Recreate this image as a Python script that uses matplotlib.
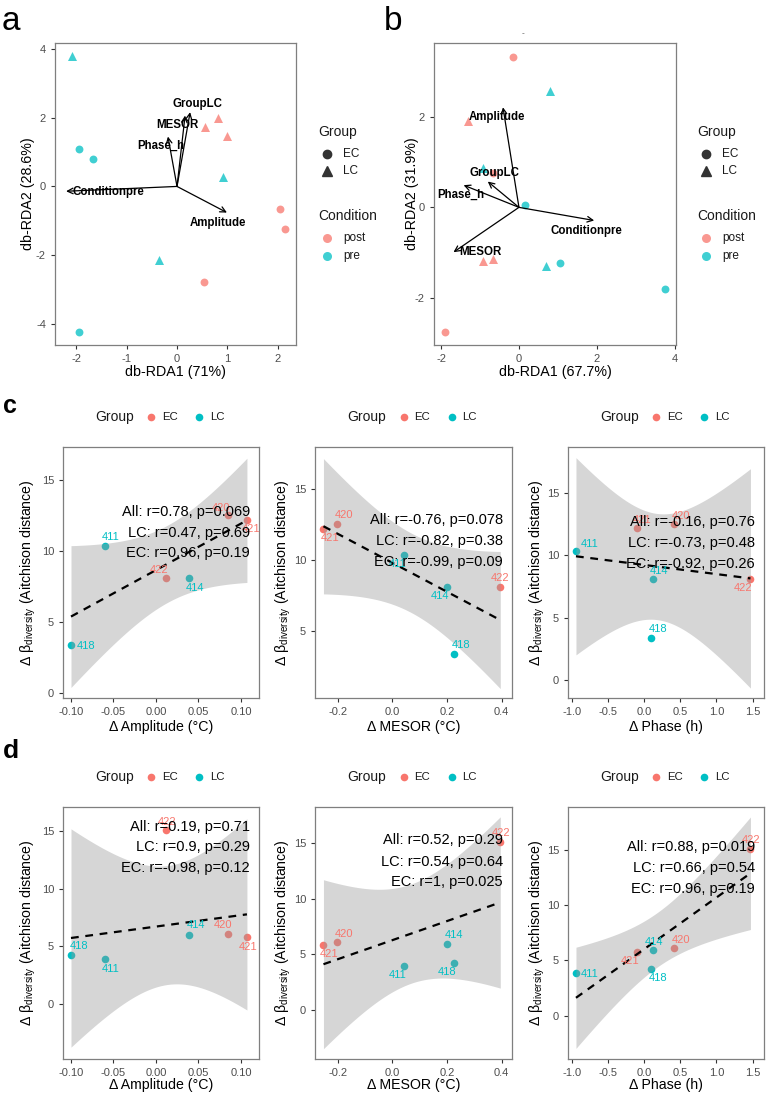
import numpy as np
import matplotlib
matplotlib.use("Agg")
import matplotlib.pyplot as plt
from matplotlib.lines import Line2D

plt.rcParams['font.family'] = ['Liberation Sans', 'DejaVu Sans']
plt.rcParams['mathtext.fontset'] = 'custom'
plt.rcParams['mathtext.rm'] = 'Liberation Sans'
plt.rcParams['axes.unicode_minus'] = False

RED = '#F8766D'
TEAL = '#00BFC4'
BOX = '#7f7f7f'
TICK = '#4d4d4d'

# ---- db-RDA ordination (panels a, b) ----
a_x = [-2.08, -1.94, -1.66, 0.55, 0.81, 1.00, 0.92, 2.04, 2.14, -0.35, 0.54, -1.94]
a_y = [3.78, 1.10, 0.79, 1.72, 1.98, 1.47, 0.27, -0.66, -1.24, -2.13, -2.77, -4.24]
a_cond = ['pre', 'pre', 'pre', 'post', 'post', 'post', 'pre', 'post', 'post', 'pre', 'post', 'pre']
a_group = ['LC', 'EC', 'EC', 'LC', 'LC', 'LC', 'LC', 'EC', 'EC', 'LC', 'EC', 'EC']
a_vec_names = ['Conditionpre', 'Amplitude', 'Phase_h', 'MESOR', 'GroupLC']
a_vec_x = [-2.20, 0.99, -0.18, 0.16, 0.26]
a_vec_y = [-0.14, -0.76, 1.45, 2.06, 2.16]
a_lab_x = [-1.37, 0.82, -0.33, 0.01, 0.40]
a_lab_y = [-0.17, -1.05, 1.17, 1.80, 2.41]

b_x = [-0.15, 0.80, -1.31, -0.93, -0.67, 0.15, -0.93, -0.67, 0.69, 1.06, 3.76, -1.90]
b_y = [3.31, 2.56, 1.90, 0.86, 0.75, 0.05, -1.19, -1.15, -1.30, -1.23, -1.81, -2.76]
b_cond = ['post', 'pre', 'post', 'pre', 'post', 'pre', 'post', 'post', 'pre', 'pre', 'pre', 'post']
b_group = ['EC', 'LC', 'LC', 'LC', 'EC', 'EC', 'LC', 'LC', 'LC', 'EC', 'EC', 'EC']
b_vec_names = ['Amplitude', 'GroupLC', 'Phase_h', 'Conditionpre', 'MESOR']
b_vec_x = [-0.41, -0.80, -1.42, 1.93, -1.68]
b_vec_y = [2.21, 0.57, 0.49, -0.29, -0.99]
b_lab_x = [-0.57, -0.62, -1.50, 1.72, -0.98]
b_lab_y = [1.99, 0.75, 0.27, -0.53, -0.99]

# ---- correlation panels (c, d) ----
ids = ['411', '414', '418', '420', '421', '422']
grp = ['LC', 'LC', 'LC', 'EC', 'EC', 'EC']
d_amp = [-0.060, 0.039, -0.100, 0.085, 0.107, 0.012]
d_mesor = [0.044, 0.198, 0.224, -0.202, -0.253, 0.395]
d_phase = [-0.94, 0.13, 0.10, 0.41, -0.10, 1.47]
beta_c = [10.35, 8.1, 3.35, 12.55, 12.2, 8.1]
beta_d = [3.9, 5.95, 4.25, 6.1, 5.8, 15.1]

stats_c = [["All: r=0.78, p=0.069", "LC: r=0.47, p=0.69", "EC: r=0.96, p=0.19"],
           ["All: r=-0.76, p=0.078", "LC: r=-0.82, p=0.38", "EC: r=-0.99, p=0.09"],
           ["All: r=-0.16, p=0.76", "LC: r=-0.73, p=0.48", "EC: r=-0.92, p=0.26"]]
stats_d = [["All: r=0.19, p=0.71", "LC: r=0.9, p=0.29", "EC: r=-0.98, p=0.12"],
           ["All: r=0.52, p=0.29", "LC: r=0.54, p=0.64", "EC: r=1, p=0.025"],
           ["All: r=0.88, p=0.019", "LC: r=0.66, p=0.54", "EC: r=0.96, p=0.19"]]

xlabels = ['Δ Amplitude (°C)', 'Δ MESOR (°C)', 'Δ Phase (h)']
xticks = [[-0.10, -0.05, 0.00, 0.05, 0.10], [-0.2, 0.0, 0.2, 0.4], [-1.0, -0.5, 0.0, 0.5, 1.0, 1.5]]
xticklabels = [['-0.10', '-0.05', '0.00', '0.05', '0.10'], ['-0.2', '0.0', '0.2', '0.4'],
               ['-1.0', '-0.5', '0.0', '0.5', '1.0', '1.5']]
xlims = [(-0.1094, 0.1212), (-0.284, 0.438), (-1.05, 1.657)]

W, H = 768, 1095
fig = plt.figure(figsize=(W / 100, H / 100), dpi=100)


def px_axes(l, t, r, b):
    return fig.add_axes([l / W, 1 - b / H, (r - l) / W, (b - t) / H])


def fpt(x, y):
    return x / W, 1 - y / H


def style_box(ax):
    for s in ax.spines.values():
        s.set_color(BOX)
        s.set_linewidth(0.9)
    ax.tick_params(colors='#333333', labelcolor=TICK, labelsize=8, length=3, width=0.8)


def rda_panel(l, t, r, b, xs, ys, cond, group, vx, vy, names, lx, ly,
              xlim, ylim, xt, yt, xl, yl, ylx):
    ax = px_axes(l, t, r, b)
    for xi, yi, c, g in zip(xs, ys, cond, group):
        ax.scatter(xi, yi, s=32 if g == 'EC' else 42, marker='o' if g == 'EC' else '^',
                   color=RED if c == 'post' else TEAL, alpha=0.75, linewidths=0, zorder=2)
    for ex, ey in zip(vx, vy):
        ax.annotate('', xy=(ex, ey), xytext=(0, 0),
                    arrowprops=dict(arrowstyle='->', lw=0.9, color='black',
                                    shrinkA=0, shrinkB=0, mutation_scale=10), zorder=3)
    for n, tx, ty in zip(names, lx, ly):
        ax.text(tx, ty, n, fontsize=8.3, fontweight='bold', ha='center', va='center', zorder=4)
    ax.set_xlim(*xlim)
    ax.set_ylim(*ylim)
    ax.set_xticks(xt)
    ax.set_yticks(yt)
    style_box(ax)
    ax.set_xlabel(xl, fontsize=10.3)
    ax.set_ylabel(yl, fontsize=10.3)
    ax.xaxis.set_label_coords(0.5, -0.089)
    ax.xaxis.label.set_va('center')
    ax.yaxis.set_label_coords(ylx, 0.5)
    ax.yaxis.label.set_va('center')
    return ax


rda_panel(55, 43, 296, 345, a_x, a_y, a_cond, a_group, a_vec_x, a_vec_y, a_vec_names,
          a_lab_x, a_lab_y, (-2.42, 2.36), (-4.61, 4.17), [-2, -1, 0, 1, 2], [-4, -2, 0, 2, 4],
          'db-RDA1 (71%)', 'db-RDA2 (28.6%)', -0.112)
rda_panel(434, 43, 676, 345, b_x, b_y, b_cond, b_group, b_vec_x, b_vec_y, b_vec_names,
          b_lab_x, b_lab_y, (-2.18, 4.03), (-3.04, 3.63), [-2, 0, 2, 4], [-2, 0, 2],
          'db-RDA1 (67.7%)', 'db-RDA2 (31.9%)', -0.091)
fig.text(*fpt(523, 34), '-', fontsize=6, color='#555555', ha='center', va='center')


def rda_legend(x0):
    fig.text(*fpt(x0, 132), 'Group', fontsize=10, ha='left', va='center', color='#1a1a1a')
    for yy, m, lab in [(154, 'o', 'EC'), (171, '^', 'LC')]:
        fig.add_artist(Line2D([(x0 + 9) / W], [1 - yy / H], marker=m, color='#333333',
                              markersize=6 if m == 'o' else 6.5, linestyle='none',
                              transform=fig.transFigure))
        fig.text(*fpt(x0 + 25, yy), lab, fontsize=8.5, ha='left', va='center', color='#1a1a1a')
    fig.text(*fpt(x0, 216), 'Condition', fontsize=10, ha='left', va='center', color='#1a1a1a')
    for yy, c, lab in [(238, RED, 'post'), (256, TEAL, 'pre')]:
        fig.add_artist(Line2D([(x0 + 9) / W], [1 - yy / H], marker='o', color=c, alpha=0.75,
                              markersize=6.5, linestyle='none', markeredgewidth=0,
                              transform=fig.transFigure))
        fig.text(*fpt(x0 + 25, yy), lab, fontsize=8.5, ha='left', va='center', color='#1a1a1a')


rda_legend(318)
rda_legend(697)


def group_legend(cx, yy):
    x0 = cx - 66
    fig.text(*fpt(x0, yy), 'Group', fontsize=10, ha='left', va='center', color='#1a1a1a')
    for dx, c, lab in [(56, RED, 'EC'), (104, TEAL, 'LC')]:
        fig.add_artist(Line2D([(x0 + dx) / W], [1 - yy / H], marker='o', color=c,
                              markersize=5.5, linestyle='none', markeredgewidth=0,
                              transform=fig.transFigure))
        fig.text(*fpt(x0 + dx + 11, yy), lab, fontsize=8.2, ha='left', va='center',
                 color='#1a1a1a')


def corr_panel(l, t, r, b, xs, ys, k, ylim, yt, stats, stat_y, offsets, ylx, xly):
    ax = px_axes(l, t, r, b)
    xs = np.array(xs)
    ys = np.array(ys)
    for xi, yi, g in zip(xs, ys, grp):
        ax.scatter(xi, yi, s=30, color=RED if g == 'EC' else TEAL, linewidths=0, zorder=2)
    # linear fit with 95% confidence band
    n = len(xs)
    slope, icpt = np.polyfit(xs, ys, 1)
    resid = ys - (slope * xs + icpt)
    s = np.sqrt(np.sum(resid ** 2) / (n - 2))
    sxx = np.sum((xs - xs.mean()) ** 2)
    xx = np.linspace(xs.min(), xs.max(), 80)
    yy = slope * xx + icpt
    se = s * np.sqrt(1 / n + (xx - xs.mean()) ** 2 / sxx)
    tval = 2.776
    ax.fill_between(xx, yy - tval * se, yy + tval * se, color='#999999', alpha=0.4,
                    linewidth=0, zorder=3)
    ax.plot(xx, yy, color='black', lw=1.6, ls=(0, (3.5, 3)), zorder=4)
    for xi, yi, lab, g, off in zip(xs, ys, ids, grp, offsets):
        ax.annotate(lab, (xi, yi), xytext=off, textcoords='offset pixels', fontsize=8,
                    color=RED if g == 'EC' else TEAL, ha='center', va='center', zorder=5)
    ax.set_xlim(*xlims[k])
    ax.set_ylim(*ylim)
    ax.set_xticks(xticks[k])
    ax.set_xticklabels(xticklabels[k])
    ax.set_yticks(yt)
    style_box(ax)
    ax.set_xlabel(xlabels[k], fontsize=10.2)
    ax.set_ylabel('Δ β$_{\\mathregular{diversity}}$ (Aitchison distance)', fontsize=10.2)
    ax.xaxis.set_label_coords(0.5, xly)
    ax.xaxis.label.set_va('center')
    ax.yaxis.set_label_coords(ylx, 0.5)
    ax.yaxis.label.set_va('center')
    for txt, sy in zip(stats, stat_y):
        fig.text(*fpt(r - 9, sy), txt, fontsize=10.5, ha='right', va='center', zorder=6)
    group_legend((l + r) / 2, yy_leg[0])
    return ax


boxes_x = [(63, 259), (315, 512), (568, 764)]
xvals = [d_amp, d_mesor, d_phase]
ylx = [-0.179, -0.162, -0.158]

off_c = [[(6, 9), (6, -10), (15, -1), (-7, 7), (4, -9), (-7, 8)],
         [(-7, -9), (-7, -9), (7, 9), (7, 9), (7, -9), (0, 9)],
         [(14, 7), (6, 8), (7, 9), (7, 8), (5, 8), (-7, -9)]]
off_d = [[(6, -10), (7, 10), (8, 9), (-5, 9), (1, -10), (1, 8)],
         [(-7, -9), (7, 9), (-7, -9), (7, 8), (6, -9), (1, 9)],
         [(14, -1), (1, 8), (7, -9), (7, 8), (-7, -9), (1, 9)]]
ylim_c = [(-0.35, 17.32), (0.28, 17.96), (-1.44, 18.7)]
yt_c = [[0, 5, 10, 15], [5, 10, 15], [0, 5, 10, 15]]
sy_c = [[512, 533, 553], [520, 541, 562], [522, 543, 564]]
ylim_d = [(-4.77, 17.08), (-4.43, 18.25), (-3.93, 18.9)]
sy_d = [[827, 847, 868], [840, 862, 882], [847, 868, 889]]

yy_leg = [417]
for k in range(3):
    l, r = boxes_x[k]
    corr_panel(l, 447, r, 698, xvals[k], beta_c, k, ylim_c[k], yt_c[k], stats_c[k],
               sy_c[k], off_c[k], ylx[k], -0.116)
yy_leg = [777]
for k in range(3):
    l, r = boxes_x[k]
    corr_panel(l, 807, r, 1059, xvals[k], beta_d, k, ylim_d[k], [0, 5, 10, 15], stats_d[k],
               sy_d[k], off_d[k], ylx[k], -0.103)

# panel letters
fig.text(*fpt(2, 30), 'a', fontsize=24, ha='left', va='baseline')
fig.text(*fpt(384, 30), 'b', fontsize=24, ha='left', va='baseline')
fig.text(*fpt(3, 413), 'c', fontsize=18, fontweight='bold', ha='left', va='baseline')
fig.text(*fpt(3, 758), 'd', fontsize=19, fontweight='bold', ha='left', va='baseline')

fig.savefig('out.png', dpi=100)
